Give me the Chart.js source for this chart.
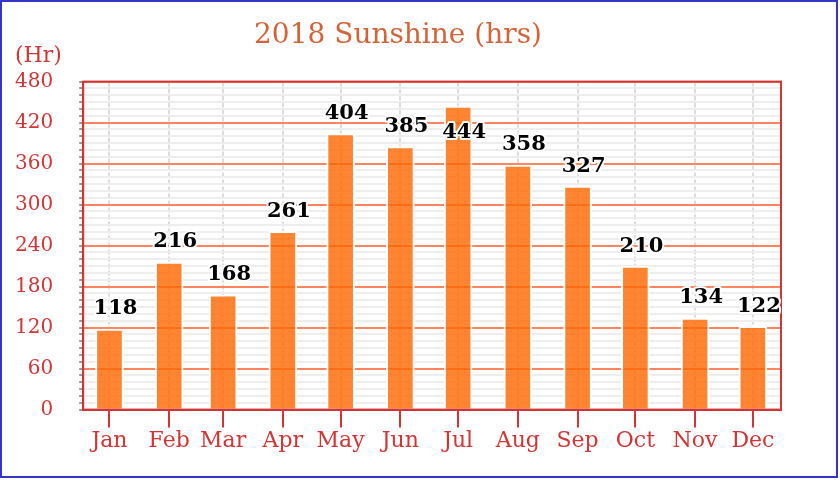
<!DOCTYPE html>
<html>
<head>
<meta charset="utf-8">
<script src="https://cdn.jsdelivr.net/npm/chart.js@4/dist/chart.umd.min.js"></script>
<style>
  body { margin: 0; background: #fff; }
  #box { position: absolute; left: 0; top: 0; width: 838px; height: 478px; box-sizing: border-box; border: 2px solid #3434c8; }
  canvas { display: block; }
</style>
</head>
<body>
<div id="box"><canvas id="Chart" width="834" height="474"></canvas></div>
<script>
const months = ["Jan", "Feb", "Mar", "Apr", "May", "Jun", "Jul", "Aug", "Sep", "Oct", "Nov", "Dec"];
const dates = ["2018-01-15", "2018-02-15", "2018-03-15", "2018-04-15", "2018-05-15", "2018-06-15",
               "2018-07-15", "2018-08-15", "2018-09-15", "2018-10-15", "2018-11-15", "2018-12-15"];
const hours = [118, 216, 168, 261, 404, 385, 444, 358, 327, 210, 134, 122];
const yTicks = [0, 60, 120, 180, 240, 300, 360, 420, 480];

const red = "#cf3636";
const serif = "'DejaVu Serif', serif";

// day of year, so the months sit at their real spacing like a time axis
function dayOfYear(s) {
  const p = s.split("-").map(Number);
  return (Date.UTC(p[0], p[1] - 1, p[2]) - Date.UTC(p[0], 0, 1)) / 864e5;
}
const days = dates.map(dayOfYear);
const points = days.map((d, i) => ({ x: d, y: hours[i] }));

const extras = {
  id: "extras",
  afterDatasetsDraw(chart) {
    const ctx = chart.ctx;
    const a = chart.chartArea;
    ctx.save();
    ctx.strokeStyle = red;
    ctx.lineWidth = 2;
    ctx.strokeRect(a.left, a.top, a.right - a.left, a.bottom - a.top);

    ctx.beginPath();
    ctx.rect(a.left, 0, a.right - a.left, chart.height);
    ctx.clip();
    ctx.font = "bold 21px " + serif;
    ctx.textAlign = "center";
    ctx.textBaseline = "middle";
    ctx.lineJoin = "round";
    ctx.lineWidth = 4;
    ctx.strokeStyle = "#fff";
    ctx.fillStyle = "#000";
    chart.getDatasetMeta(0).data.forEach((bar, i) => {
      let y = bar.y - 20;
      if (y - 12 < a.top) y = bar.y + 26;
      const x = bar.x + 6;
      ctx.strokeText(String(hours[i]), x, y);
      ctx.fillText(String(hours[i]), x, y);
    });
    ctx.restore();

    ctx.save();
    ctx.font = "22px " + serif;
    ctx.fillStyle = red;
    ctx.textAlign = "left";
    ctx.textBaseline = "middle";
    ctx.fillText("(Hr)", 13, 54);
    ctx.restore();
  }
};

new Chart(document.getElementById("Chart"), {
  type: "bar",
  data: {
    datasets: [{
      data: points,
      backgroundColor: "rgba(255,102,0,0.8)",
      borderColor: "#fff",
      borderWidth: 2,
      barThickness: 28
    }]
  },
  options: {
    responsive: false,
    animation: false,
    devicePixelRatio: 1,
    layout: { padding: { left: 13, right: 55, top: 0, bottom: 22 } },
    plugins: {
      legend: { display: false },
      tooltip: { enabled: false },
      title: {
        display: true,
        text: "2018 Sunshine (hrs)",
        color: "#d2643a",
        font: { family: serif, size: 28, weight: "normal" },
        padding: { top: 17, bottom: 29 }
      }
    },
    scales: {
      x: {
        type: "linear",
        min: 0.35,
        max: 362.6,
        offset: false,
        afterBuildTicks(scale) {
          scale.ticks = days.map(d => ({ value: d }));
        },
        ticks: {
          autoSkip: false,
          maxRotation: 0,
          padding: 0,
          color: red,
          font: { family: serif, size: 22 },
          callback: (v, i) => months[i]
        },
        grid: {
          offset: false,
          color: "#dddddd",
          lineWidth: 2,
          tickColor: red,
          tickLength: 18,
          tickWidth: 2
        },
        border: { color: red, width: 2, dash: [5, 2] }
      },
      y: {
        min: 0,
        max: 480,
        afterFit(scale) {
          scale.width -= scale.options.ticks.padding;
        },
        ticks: {
          stepSize: 10,
          autoSkip: false,
          padding: 26,
          color: red,
          font: { family: serif, size: 20 },
          callback: v => yTicks.includes(v) ? v : ""
        },
        grid: {
          color: c => yTicks.includes(c.tick.value) ? "#ff8460" : "#eeeeee",
          lineWidth: 2,
          tickColor: "#999999",
          tickLength: 4
        },
        border: { color: red, width: 2 }
      }
    }
  },
  plugins: [extras]
});
</script>
</body>
</html>
